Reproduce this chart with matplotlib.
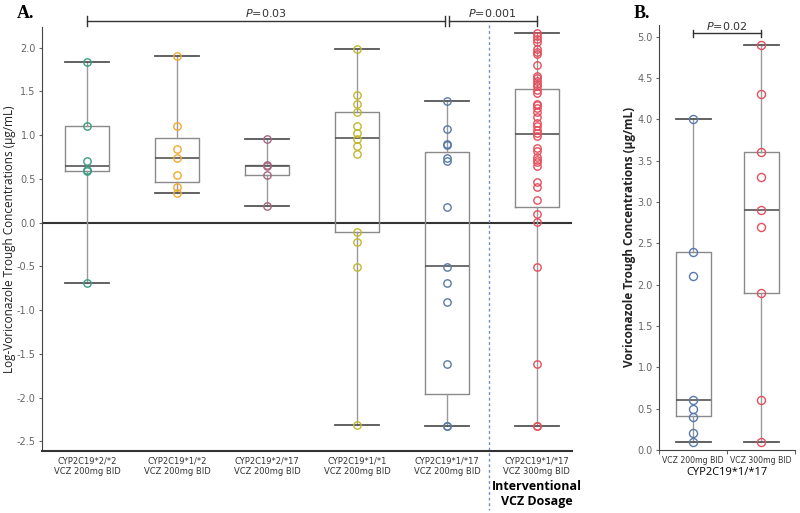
import matplotlib.pyplot as plt

plt.rcParams["axes.unicode_minus"] = False

# ---- panel A data (log concentrations) ----
labels_a = ["CYP2C19*2/*2\nVCZ 200mg BID", "CYP2C19*1/*2\nVCZ 200mg BID",
            "CYP2C19*2/*17\nVCZ 200mg BID", "CYP2C19*1/*1\nVCZ 200mg BID",
            "CYP2C19*1/*17\nVCZ 200mg BID", "CYP2C19*1/*17\nVCZ 300mg BID"]
colors_a = ["#3a9e80", "#f0aa30", "#a8657f", "#c2b830", "#5a7aaa", "#e4505e"]

pts_22 = [1.84, 1.10, 0.70, 0.60, 0.59, -0.69]
pts_12 = [1.91, 1.10, 0.84, 0.74, 0.54, 0.41, 0.34]
pts_217 = [0.96, 0.66, 0.65, 0.54, 0.19]
pts_11 = [1.99, 1.46, 1.36, 1.26, 1.10, 1.03, 0.96, 0.88, 0.79,
          -0.11, -0.22, -0.51, -2.31]
pts_117_200 = [1.39, 1.07, 0.90, 0.885, 0.74, 0.70, 0.18,
               -0.51, -0.69, -0.91, -1.61, -2.32, -2.32]
pts_117_300 = [2.17, 2.13, 2.10, 2.06, 1.98, 1.95, 1.93, 1.80, 1.68, 1.65,
               1.62, 1.59, 1.56, 1.52, 1.48, 1.36, 1.34, 1.31, 1.26, 1.21,
               1.14, 1.10, 1.06, 1.03, 0.99, 0.85, 0.82, 0.75, 0.72, 0.69,
               0.65, 0.47, 0.41, 0.26, 0.10, 0.01, -0.51, -1.61, -2.32, -2.33]
points_a = [pts_22, pts_12, pts_217, pts_11, pts_117_200, pts_117_300]

# box stats
q1_a = [0.59, 0.465, 0.54, -0.105, -1.96, 0.18]
med_a = [0.65, 0.74, 0.65, 0.965, -0.50, 1.01]
q3_a = [1.10, 0.97, 0.66, 1.26, 0.81, 1.53]
lo_a = [-0.69, 0.34, 0.19, -2.31, -2.33, -2.33]
hi_a = [1.84, 1.91, 0.96, 1.99, 1.39, 2.17]

# ---- panel B data (concentrations, CYP2C19*1/*17) ----
labels_b = ["VCZ 200mg BID", "VCZ 300mg BID"]
colors_b = ["#5a7aaa", "#e4505e"]
pts_200 = [4.0, 2.4, 2.1, 0.6, 0.5, 0.4, 0.2, 0.1]
pts_300 = [4.9, 4.3, 3.6, 3.3, 2.9, 2.7, 1.9, 0.6, 0.1]
points_b = [pts_200, pts_300]
q1_b = [0.41, 1.90]
med_b = [0.61, 2.90]
q3_b = [2.40, 3.60]
lo_b = [0.10, 0.10]
hi_b = [4.00, 4.90]


def stats(q1, med, q3, lo, hi):
    return [dict(q1=a, med=b, q3=c, whislo=d, whishi=e, fliers=[])
            for a, b, c, d, e in zip(q1, med, q3, lo, hi)]


box_kw = dict(showfliers=False, patch_artist=False,
              boxprops=dict(color="#8a8a8a", lw=1.0),
              medianprops=dict(color="#555555", lw=1.2),
              whiskerprops=dict(color="#9a9a9a", lw=1.0),
              capprops=dict(color="#555555", lw=1.3))

fig = plt.figure(figsize=(8, 5.13), dpi=100)

# ================= panel A =================
ax = fig.add_axes([0.0525, 0.1209, 0.6625, 0.827])
pos_a = list(range(1, 7))
ax.bxp(stats(q1_a, med_a, q3_a, lo_a, hi_a), positions=pos_a, widths=0.49,
       capwidths=0.49, **box_kw)
for p, vals, c in zip(pos_a, points_a, colors_a):
    ax.plot([p] * len(vals), vals, "o", mfc="none", mec=c, ms=5.3, mew=1.0, zorder=5)

ax.axhline(0, color="#333333", lw=1.5, zorder=1)
ax.set_xlim(0.5, 6.39)
ax.set_ylim(-2.61, 2.24)
ax.set_yticks([-2.5, -2.0, -1.5, -1.0, -0.5, 0.0, 0.5, 1.0, 1.5, 2.0])
ax.set_xticks(pos_a)
ax.set_xticklabels(labels_a, fontsize=6, color="#333333")
ax.tick_params(axis="x", length=0, pad=4)
ax.tick_params(axis="y", labelsize=7, colors="#666666", length=2.5, pad=2)
for s in ["top", "right"]:
    ax.spines[s].set_visible(False)
ax.spines["left"].set_color("#444444")
ax.spines["bottom"].set_color("#333333")
ax.spines["bottom"].set_linewidth(1.5)

# significance brackets
yb = 2.305
for x0, x1, txt in [(1, 4.98, "$P$=0.03"), (5.02, 6, "$P$=0.001")]:
    ax.plot([x0, x1], [yb, yb], color="#333333", lw=1, clip_on=False)
    for x in (x0, x1):
        ax.plot([x, x], [yb - 0.06, yb + 0.06], color="#333333", lw=1, clip_on=False)
    ax.text((x0 + x1) / 2, yb + 0.02, txt, ha="center", va="bottom",
            fontsize=8, color="#333333")

ax.plot([5.47, 5.47], [2.26, -3.28], color="#7090c0", lw=1,
        ls=(0, (2, 2)), clip_on=False)
ax.text(6, -3.1, "Interventional\nVCZ Dosage", ha="center", va="center",
        fontsize=9, fontweight="bold", family="Open Sans", linespacing=1.15)

fig.text(0.012, 1 - 239 / 513, "Log-Voriconazole Trough Concentrations (µg/mL)",
         rotation=90, ha="center", va="center", fontsize=8.5, family="Open Sans",
         color="#222222")
fig.text(0.032, 1 - 13 / 513, "A.", fontsize=13, fontweight="bold",
         family="Liberation Serif", ha="center", va="center")

# ================= panel B =================
bx = fig.add_axes([0.824, 0.1228, 0.17, 0.8285])
pos_b = [1, 2]
bx.bxp(stats(q1_b, med_b, q3_b, lo_b, hi_b), positions=pos_b, widths=0.51,
       capwidths=0.51, **box_kw)
for p, vals, c in zip(pos_b, points_b, colors_b):
    bx.plot([p] * len(vals), vals, "o", mfc="none", mec=c, ms=5.8, mew=1.0, zorder=5)

bx.set_xlim(0.5, 2.5)
bx.set_ylim(0, 5.14)
bx.set_yticks([0.0, 0.5, 1.0, 1.5, 2.0, 2.5, 3.0, 3.5, 4.0, 4.5, 5.0])
bx.set_xticks(pos_b)
bx.set_xticklabels(labels_b, fontsize=5.6, color="#333333")
bx.set_xticks([0.5, 1.5, 2.5], minor=True)
bx.tick_params(axis="x", which="major", length=0, pad=4)
bx.tick_params(axis="x", which="minor", length=3, color="#444444")
bx.tick_params(axis="y", labelsize=7, colors="#666666", length=2.5, pad=2)
for s in ["top", "right"]:
    bx.spines[s].set_visible(False)
bx.spines["left"].set_color("#444444")
bx.spines["bottom"].set_color("#444444")
bx.set_xlabel("CYP2C19*1/*17", fontsize=8, family="Open Sans", labelpad=2)

yb2 = 5.04
bx.plot([1, 2], [yb2, yb2], color="#333333", lw=1, clip_on=False)
for x in (1, 2):
    bx.plot([x, x], [yb2 - 0.045, yb2 + 0.045], color="#333333", lw=1, clip_on=False)
bx.text(1.5, yb2 + 0.02, "$P$=0.02", ha="center", va="bottom", fontsize=8,
        color="#333333")

fig.text(630 / 800, 1 - 237 / 513, "Voriconazole Trough Concentrations (µg/mL)",
         rotation=90, ha="center", va="center", fontsize=8.5, fontweight="bold",
         family="Open Sans", color="#222222")
fig.text(642 / 800, 1 - 14 / 513, "B.", fontsize=13, fontweight="bold",
         family="Liberation Serif", ha="center", va="center")

fig.savefig("out.png", dpi=100)
